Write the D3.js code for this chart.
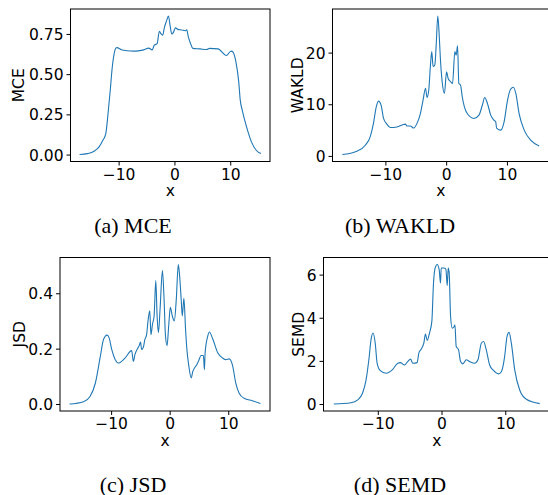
<!DOCTYPE html>
<html>
<head>
<meta charset="utf-8">
<script src="https://cdn.jsdelivr.net/npm/d3@7"></script>
<style>
  body { margin: 0; background: #fff; }
  svg { display: block; }
  .tick text { font-family: "DejaVu Sans", sans-serif; font-size: 15.5px; fill: #000; }
  .axis-label { font-family: "DejaVu Sans", sans-serif; font-size: 15.5px; fill: #000; }
  .caption { font-family: "Liberation Serif", "Times New Roman", serif; font-size: 22px; fill: #000; }
</style>
</head>
<body>
<div id="chart"></div>
<script>
// ---------------- data ----------------

// (a) MCE
const mcePoints = [
  [-17.0, 0.0], [-15.6, 0.006], [-14.4, 0.021], [-13.5, 0.048], [-12.8, 0.09],
  [-12.3, 0.13], [-11.9, 0.254], [-11.5, 0.40], [-11.2, 0.523], [-10.8, 0.627],
  [-10.5, 0.662], [-10.3, 0.665], [-9.5, 0.652], [-8.5, 0.646], [-7.3, 0.643],
  [-6.5, 0.645], [-5.5, 0.651], [-4.6, 0.662], [-4.0, 0.651], [-3.6, 0.680],
  [-3.1, 0.690], [-2.7, 0.767], [-2.4, 0.750], [-2.1, 0.742], [-1.8, 0.790],
  [-1.4, 0.833], [-1.07, 0.862], [-0.77, 0.80], [-0.47, 0.75], [-0.18, 0.76],
  [0.18, 0.788], [0.7, 0.777], [1.3, 0.775], [1.9, 0.770], [2.2, 0.775],
  [2.5, 0.73], [2.9, 0.69], [3.3, 0.66], [4.6, 0.657], [5.75, 0.653],
  [6.3, 0.66], [7.8, 0.657], [9.3, 0.616], [10.0, 0.64], [10.2, 0.643],
  [10.5, 0.637], [11.0, 0.58], [11.5, 0.46], [11.8, 0.337], [12.16, 0.275],
  [12.6, 0.213], [13.2, 0.14], [13.8, 0.079], [14.65, 0.027], [15.5, 0.006]
];

// (b) WAKLD
const wakldPoints = [
  [-17.08, 0.26], [-14.7, 0.9], [-13.3, 2.07], [-12.5, 3.7], [-11.96, 6.3],
  [-11.5, 9.5], [-11.13, 10.6], [-10.7, 9.8], [-10.3, 7.25], [-9.75, 6.15],
  [-9.2, 5.5], [-8.1, 5.6], [-6.7, 6.15], [-6.45, 5.8], [-5.9, 5.8],
  [-5.34, 5.4], [-4.8, 6.3], [-4.24, 8.2], [-3.8, 10.8], [-3.4, 13.1],
  [-3.14, 11.3], [-2.86, 12.75], [-2.6, 17.3], [-2.37, 20.2], [-2.15, 17.3],
  [-1.87, 17.6], [-1.65, 21.2], [-1.38, 27.1], [-1.16, 23.75], [-0.94, 18.6],
  [-0.66, 14.4], [-0.28, 12.1], [0.06, 16.3], [0.33, 15.0], [0.72, 14.4],
  [1.05, 14.0], [1.43, 20.2], [1.65, 19.5], [1.87, 21.3], [2.09, 14.0],
  [2.37, 13.7], [2.64, 11.5], [3.0, 9.5], [3.47, 8.2], [4.57, 7.25],
  [5.4, 7.9], [5.95, 9.8], [6.34, 11.3], [6.78, 10.2], [7.33, 7.9],
  [7.88, 6.9], [8.15, 6.6], [8.3, 5.4], [8.98, 5.0], [9.53, 6.6],
  [10.1, 10.8], [10.6, 12.9], [11.07, 13.3], [11.46, 12.1], [12.0, 8.2],
  [12.84, 5.0], [13.94, 3.0], [15.3, 1.94]
];

// (c) JSD
const jsdPoints = [
  [-17.1, 0.0], [-14.7, 0.0085], [-13.6, 0.027], [-12.7, 0.075], [-11.86, 0.17],
  [-11.3, 0.233], [-10.7, 0.249], [-10.34, 0.239], [-9.9, 0.197], [-9.3, 0.16],
  [-8.76, 0.148], [-7.63, 0.166], [-6.5, 0.193], [-6.2, 0.154], [-5.93, 0.179],
  [-5.5, 0.2], [-5.2, 0.211], [-4.97, 0.224], [-4.8, 0.197], [-4.5, 0.205],
  [-4.24, 0.233], [-3.95, 0.25], [-3.67, 0.306], [-3.4, 0.337], [-3.2, 0.25],
  [-2.94, 0.288], [-2.66, 0.318], [-2.37, 0.446], [-2.15, 0.318], [-1.92, 0.258],
  [-1.64, 0.343], [-1.24, 0.482], [-0.96, 0.379], [-0.73, 0.25], [-0.45, 0.211],
  [-0.17, 0.282], [0.11, 0.349], [0.45, 0.318], [0.79, 0.3], [1.13, 0.379],
  [1.47, 0.504], [1.69, 0.464], [1.98, 0.373], [2.15, 0.318], [2.43, 0.382],
  [2.71, 0.27], [2.94, 0.197], [3.28, 0.136], [3.67, 0.094], [3.95, 0.118],
  [4.24, 0.13], [4.63, 0.142], [4.9, 0.154], [5.37, 0.175], [5.76, 0.175],
  [5.93, 0.124], [6.05, 0.185], [6.5, 0.245], [6.78, 0.26], [7.34, 0.236],
  [8.2, 0.185], [9.04, 0.166], [9.6, 0.16], [10.17, 0.163], [10.7, 0.142],
  [11.3, 0.075], [11.86, 0.039], [12.7, 0.021], [14.1, 0.012], [15.5, 0.002]
];

// (d) SEMD
const semdPoints = [
  [-16.9, 0.0], [-14.2, 0.06], [-13.15, 0.19], [-12.4, 0.5], [-11.85, 1.1],
  [-11.4, 2.05], [-11.06, 2.98], [-10.74, 3.29], [-10.4, 2.82], [-10.1, 1.89],
  [-9.6, 1.55], [-8.7, 1.43], [-7.65, 1.61], [-6.87, 1.89], [-6.45, 1.92],
  [-5.82, 1.81], [-5.3, 1.97], [-4.87, 2.08], [-4.5, 1.89], [-3.83, 1.92],
  [-3.56, 2.36], [-3.2, 2.54], [-2.78, 2.82], [-2.52, 3.24], [-2.25, 2.95],
  [-1.89, 3.29], [-1.52, 3.83], [-1.26, 5.6], [-1.0, 6.31], [-0.68, 6.47],
  [-0.37, 6.23], [-0.16, 5.61], [-0.05, 6.31], [0.37, 6.31], [0.68, 6.26],
  [0.89, 5.49], [1.05, 6.31], [1.2, 6.08], [1.42, 4.06], [1.68, 3.52],
  [1.94, 3.57], [2.1, 3.67], [2.3, 2.67], [2.67, 2.51], [2.99, 1.97],
  [3.35, 1.86], [3.88, 2.05], [4.4, 1.97], [5.19, 1.89], [5.71, 2.05],
  [6.24, 2.82], [6.6, 2.9], [7.02, 2.51], [7.55, 1.81], [8.07, 1.58],
  [8.96, 1.4], [9.38, 1.5], [9.9, 2.2], [10.27, 3.13], [10.59, 3.32],
  [10.95, 2.82], [11.48, 1.58], [12.26, 0.65], [13.3, 0.22], [15.4, 0.02]
];

const xTicks = [-10, 0, 10];
const mceTicks = [0, 0.25, 0.5, 0.75];
const wakldTicks = [0, 10, 20];
const jsdTicks = [0, 0.2, 0.4];
const semdTicks = [0, 2, 4, 6];

const panelNames = ["MCE", "WAKLD", "JSD", "SEMD"];
const captions = ["(a) MCE", "(b) WAKLD", "(c) JSD", "(d) SEMD"];

// ---------------- layout ----------------

const W = 548, H = 495;
const lineColor = "#1f77b4";

const panels = [
  { points: mcePoints,   ticks: mceTicks,   fmt: ".2f", box: { l: 70.5,  t: 9,     r: 270, b: 161.5 }, labelX: 18.5, capX: 133, capY: 232.5 },
  { points: wakldPoints, ticks: wakldTicks, fmt: "d",   box: { l: 332.5, t: 9,     r: 549, b: 161.5 }, labelX: 297,  capX: 400, capY: 232.5 },
  { points: jsdPoints,   ticks: jsdTicks,   fmt: ".1f", box: { l: 60,    t: 257.5, r: 270, b: 411 },   labelX: 19,   capX: 133, capY: 491.5 },
  { points: semdPoints,  ticks: semdTicks,  fmt: "d",   box: { l: 323.5, t: 257.5, r: 550, b: 411 },   labelX: 298,  capX: 400, capY: 491.5 }
];

const svg = d3.select("#chart").append("svg")
  .attr("width", W)
  .attr("height", H);

// matplotlib-like 5% padding around data
function padded(ext) {
  const p = (ext[1] - ext[0]) * 0.05;
  return [ext[0] - p, ext[1] + p];
}

panels.forEach((p, i) => {
  const { l, t, r, b } = p.box;

  const x = d3.scaleLinear()
    .domain(padded(d3.extent(p.points, d => d[0])))
    .range([l, r]);

  const y = d3.scaleLinear()
    .domain(padded(d3.extent(p.points, d => d[1])))
    .range([b, t]);

  const g = svg.append("g");

  // the curve
  const line = d3.line()
    .x(d => x(d[0]))
    .y(d => y(d[1]))
    .curve(d3.curveMonotoneX);

  g.append("path")
    .datum(p.points)
    .attr("fill", "none")
    .attr("stroke", lineColor)
    .attr("stroke-width", 1.1)
    .attr("stroke-linejoin", "round")
    .attr("d", line);

  // frame
  g.append("rect")
    .attr("x", l).attr("y", t)
    .attr("width", r - l).attr("height", b - t)
    .attr("fill", "none")
    .attr("stroke", "#000")
    .attr("stroke-width", 1);

  // axes
  const xAxis = g.append("g")
    .attr("transform", `translate(0,${b})`)
    .call(d3.axisBottom(x).tickValues(xTicks).tickSize(4).tickPadding(3).tickFormat(d3.format("d")));
  xAxis.select(".domain").remove();
  xAxis.selectAll("line").attr("stroke", "#000");

  const yAxis = g.append("g")
    .attr("transform", `translate(${l},0)`)
    .call(d3.axisLeft(y).tickValues(p.ticks).tickSize(4).tickPadding(3).tickFormat(d3.format(p.fmt)));
  yAxis.select(".domain").remove();
  yAxis.selectAll("line").attr("stroke", "#000");
  yAxis.selectAll("text").attr("dy", "0.36em");

  // axis labels
  g.append("text")
    .attr("class", "axis-label")
    .attr("x", (l + Math.min(r, W)) / 2 + (r > W ? (r - W) / 2 : 0))
    .attr("y", b + 34.5)
    .attr("text-anchor", "middle")
    .text("x");

  g.append("text")
    .attr("class", "axis-label")
    .attr("transform", `translate(${p.labelX},${(t + b) / 2}) rotate(-90)`)
    .attr("dy", "0.36em")
    .attr("text-anchor", "middle")
    .text(panelNames[i]);

  // caption
  svg.append("text")
    .attr("class", "caption")
    .attr("x", p.capX)
    .attr("y", p.capY)
    .attr("text-anchor", "middle")
    .text(captions[i]);
});
</script>
</body>
</html>
